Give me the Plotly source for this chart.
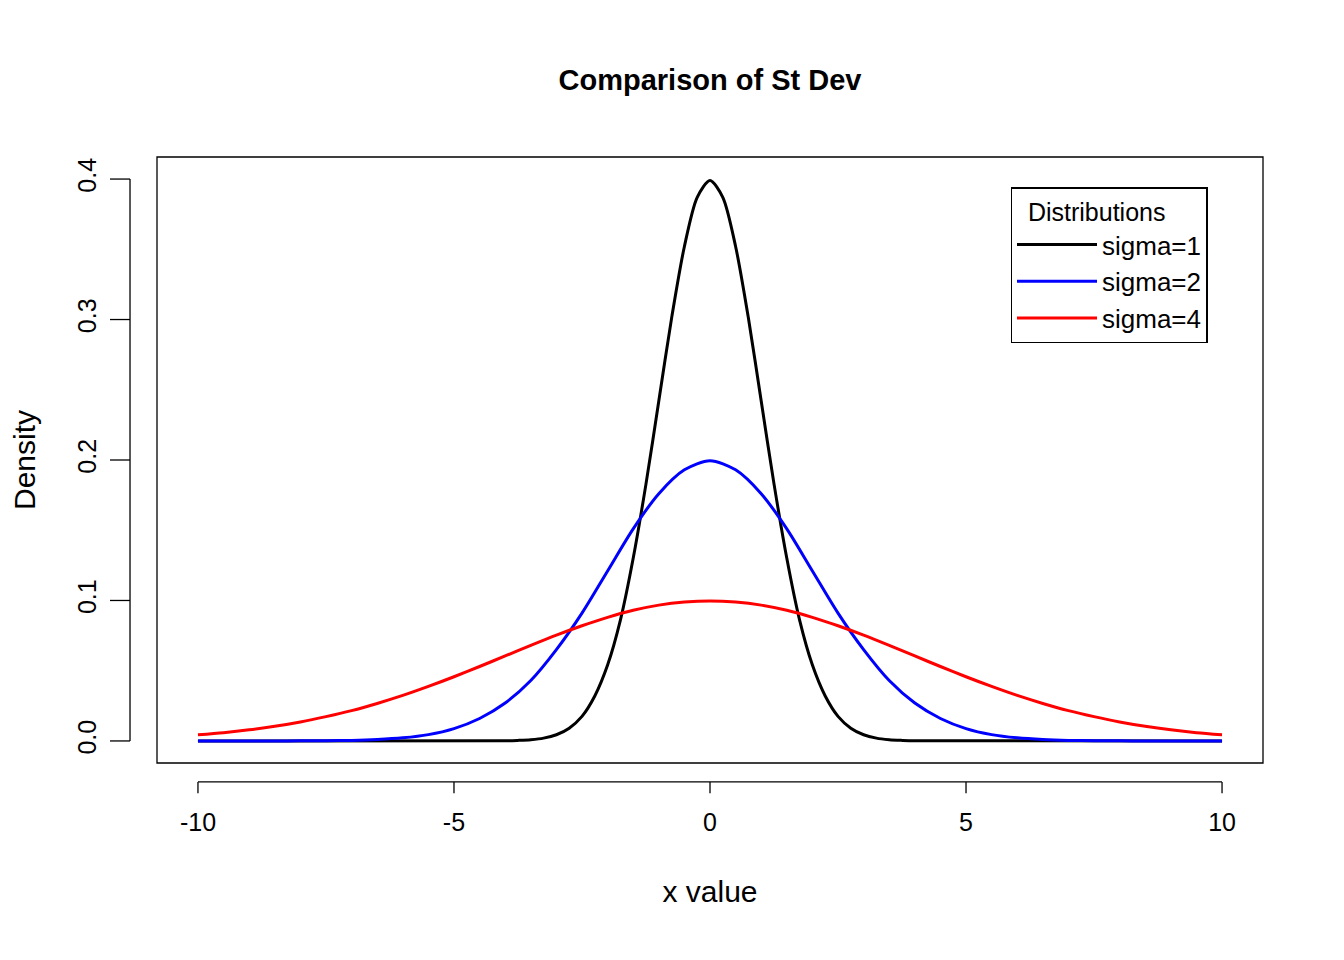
import plotly.graph_objects as go

# densities (right half, mirrored about x=0)
x1_half = [10, 4, 3.75, 3.5, 3.25, 3, 2.75, 2.5, 2.25, 2, 1.75, 1.5, 1.25, 1, 0.75, 0.5, 0.25]
s1_half = [0, 0.0001, 0.0004, 0.0009, 0.002, 0.0044, 0.0091, 0.0175, 0.032, 0.054, 0.086,
           0.130, 0.183, 0.242, 0.301, 0.352, 0.387]
x_half = [10, 9.5, 9, 8.5, 8, 7.5, 7, 6.5, 6, 5.5, 5, 4.5, 4, 3.5, 3, 2.5, 2, 1.5, 1, 0.5]
s2_half = [0, 0, 0, 0, 0.0001, 0.0002, 0.0004, 0.0010, 0.0022, 0.0045, 0.0088, 0.016, 0.027,
           0.043, 0.065, 0.091, 0.121, 0.151, 0.176, 0.193]
s4_half = [0.0044, 0.0059, 0.0079, 0.0104, 0.0135, 0.0173, 0.0216, 0.0267, 0.0324, 0.0388, 0.0457,
           0.0530, 0.0605, 0.0680, 0.0753, 0.0820, 0.0880, 0.0930, 0.0967, 0.0989]
peak_s1, peak_s2, peak_s4 = 0.399, 0.1995, 0.0997


def sym(xh, yh, peak):
    xs = [-v for v in xh] + [0] + xh[::-1]
    ys = yh + [peak] + yh[::-1]
    return xs, ys


font = "Liberation Sans, Arial, sans-serif"
fig = go.Figure()
for name, xh, yh, pk, col in [("sigma=1", x1_half, s1_half, peak_s1, "black"),
                              ("sigma=2", x_half, s2_half, peak_s2, "blue"),
                              ("sigma=4", x_half, s4_half, peak_s4, "red")]:
    xs, ys = sym(xh, yh, pk)
    fig.add_trace(go.Scatter(x=xs, y=ys, mode="lines", name=name,
                             line=dict(color=col, width=3, shape="spline", smoothing=0.8)))

# R-style detached axes
lw = dict(color="black", width=1.3)
shapes = [dict(type="rect", xref="paper", yref="paper", x0=0, x1=1, y0=0, y1=1, line=lw)]
shapes.append(dict(type="line", xref="x", yref="paper", x0=-10, x1=10, y0=-0.0313, y1=-0.0313, line=lw))
for t in [-10, -5, 0, 5, 10]:
    shapes.append(dict(type="line", xref="x", yref="paper", x0=t, x1=t, y0=-0.0313, y1=-0.05, line=lw))
shapes.append(dict(type="line", xref="paper", yref="y", x0=-0.0244, x1=-0.0244, y0=0, y1=0.4, line=lw))
for t in [0, 0.1, 0.2, 0.3, 0.4]:
    shapes.append(dict(type="line", xref="paper", yref="y", x0=-0.0244, x1=-0.0425, y0=t, y1=t, line=lw))

fig.update_layout(
    width=1344, height=960,
    plot_bgcolor="white", paper_bgcolor="white",
    font=dict(family=font, size=25, color="black"),
    margin=dict(l=149, r=89, t=149, b=205),
    title=dict(text="<b>Comparison of St Dev</b>", x=(149 + 1255) / 2 / 1344, xanchor="center",
               y=1 - 72 / 960, yanchor="middle", font=dict(size=29)),
    xaxis=dict(range=[-10.8, 10.8], showgrid=False, zeroline=False, tickvals=[-10, -5, 0, 5, 10],
               ticktext=["-10", "-5", "0", "5", "10"], ticks="", ticklabelstandoff=42,
               title=dict(text="x value", standoff=45)),
    yaxis=dict(range=[-0.0157, 0.4157], showgrid=False, zeroline=False,
               tickvals=[0, 0.1, 0.2, 0.3, 0.4], ticktext=["0.0", "0.1", "0.2", "0.3", "0.4"],
               tickangle=-90, ticks="", ticklabelstandoff=55,
               title=dict(text="Density", standoff=30)),
    shapes=shapes,
    legend=dict(x=0.950, y=0.950, xanchor="right", yanchor="top",
                bordercolor="black", borderwidth=1.3, bgcolor="white",
                title=dict(text="  Distributions", side="top", font=dict(size=25)),
                font=dict(size=26), itemwidth=80, tracegroupgap=0),
)
fig.write_html("out.html")
